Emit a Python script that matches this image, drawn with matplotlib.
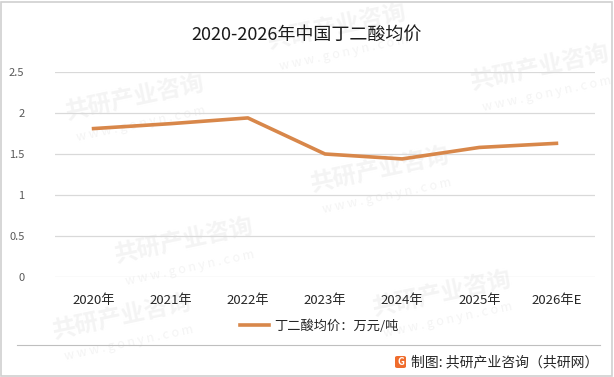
import matplotlib.pyplot as plt
from matplotlib.patches import Rectangle, FancyBboxPatch

plt.rcParams['font.family'] = ['Noto Sans CJK SC', 'DejaVu Sans']

years = ['2020年', '2021年', '2022年', '2023年', '2024年', '2025年', '2026年E']
prices = [1.81, 1.87, 1.94, 1.50, 1.44, 1.58, 1.63]
yticks = [0, 0.5, 1, 1.5, 2, 2.5]
ytick_labels = ['0', '0.5', '1', '1.5', '2', '2.5']

W, H = 614, 377
fig = plt.figure(figsize=(W / 100, H / 100), dpi=100)

# 水印（很淡）
for (x, y) in [(0.22, 0.74), (0.55, 0.93), (0.62, 0.55), (0.3, 0.36), (0.72, 0.22), (0.88, 0.82), (0.2, 0.16)]:
    fig.text(x, y, '共研产业咨询', fontsize=17, fontweight='bold', color='#f4f4f4',
             rotation=12, ha='center', va='center', zorder=-5)
    fig.text(x + 0.01, y - 0.07, 'w w w . g o n y n . c o m', fontsize=9, color='#f4f4f4',
             rotation=12, ha='center', va='center', zorder=-5)

ax = fig.add_axes([55 / W, 1 - 277 / H, 540 / W, 205 / H])
ax.set_zorder(2)
ax.patch.set_alpha(0)
x = list(range(len(years)))
ax.plot(x, prices, color='#d8874a', linewidth=2.6, solid_joinstyle='round', zorder=3,
        label='丁二酸均价：万元/吨')
ax.set_xlim(-0.5, len(years) - 0.5)
ax.set_ylim(0, 2.5)
ax.set_yticks(yticks)
ax.set_yticklabels(ytick_labels, fontsize=8, color='#595959')
ax.set_xticks(x)
ax.set_xticklabels(years, fontsize=9.5, color='#262626')
ax.tick_params(length=0)
ax.tick_params(axis='x', pad=12)
ax.tick_params(axis='y', pad=22)
ax.grid(axis='y', color='#d9d9d9', linewidth=0.9)
for s in ax.spines.values():
    s.set_visible(False)

fig.text(0.5, 1 - 35 / H, '2020-2026年中国丁二酸均价', fontsize=13, ha='center', va='center',
         color='#1a1a1a', zorder=5)

leg = fig.legend(loc='center', bbox_to_anchor=(0.52, 1 - 326 / H), frameon=False,
                 fontsize=9.5, handlelength=2.2, handletextpad=0.4)
leg.set_zorder(5)
for t in leg.get_texts():
    t.set_color('#262626')

# 分隔线与边框
fig.add_artist(plt.Line2D([17 / W, 600 / W], [1 - 345 / H] * 2, color='#bfbfbf', linewidth=0.8))
fig.add_artist(Rectangle((1 / W, 1 / H), 1 - 3 / W, 1 - 3 / H, fill=False,
                         edgecolor='#d0d0d0', linewidth=1.2, transform=fig.transFigure))

# 来源
fig.add_artist(FancyBboxPatch((395 / W, 1 - 368 / H), 11 / W, 12 / H,
                              boxstyle='round,pad=0,rounding_size=0.004',
                              facecolor='#ef6c2c', edgecolor='none', transform=fig.transFigure,
                              zorder=5))
fig.text(400.5 / W, 1 - 362 / H, 'G', fontsize=7, fontweight='bold', color='white',
         ha='center', va='center', zorder=6)
fig.text(411 / W, 1 - 362 / H, '制图: 共研产业咨询（共研网）', fontsize=10, color='#262626',
         ha='left', va='center', zorder=5)

fig.savefig('out.png', dpi=100)
